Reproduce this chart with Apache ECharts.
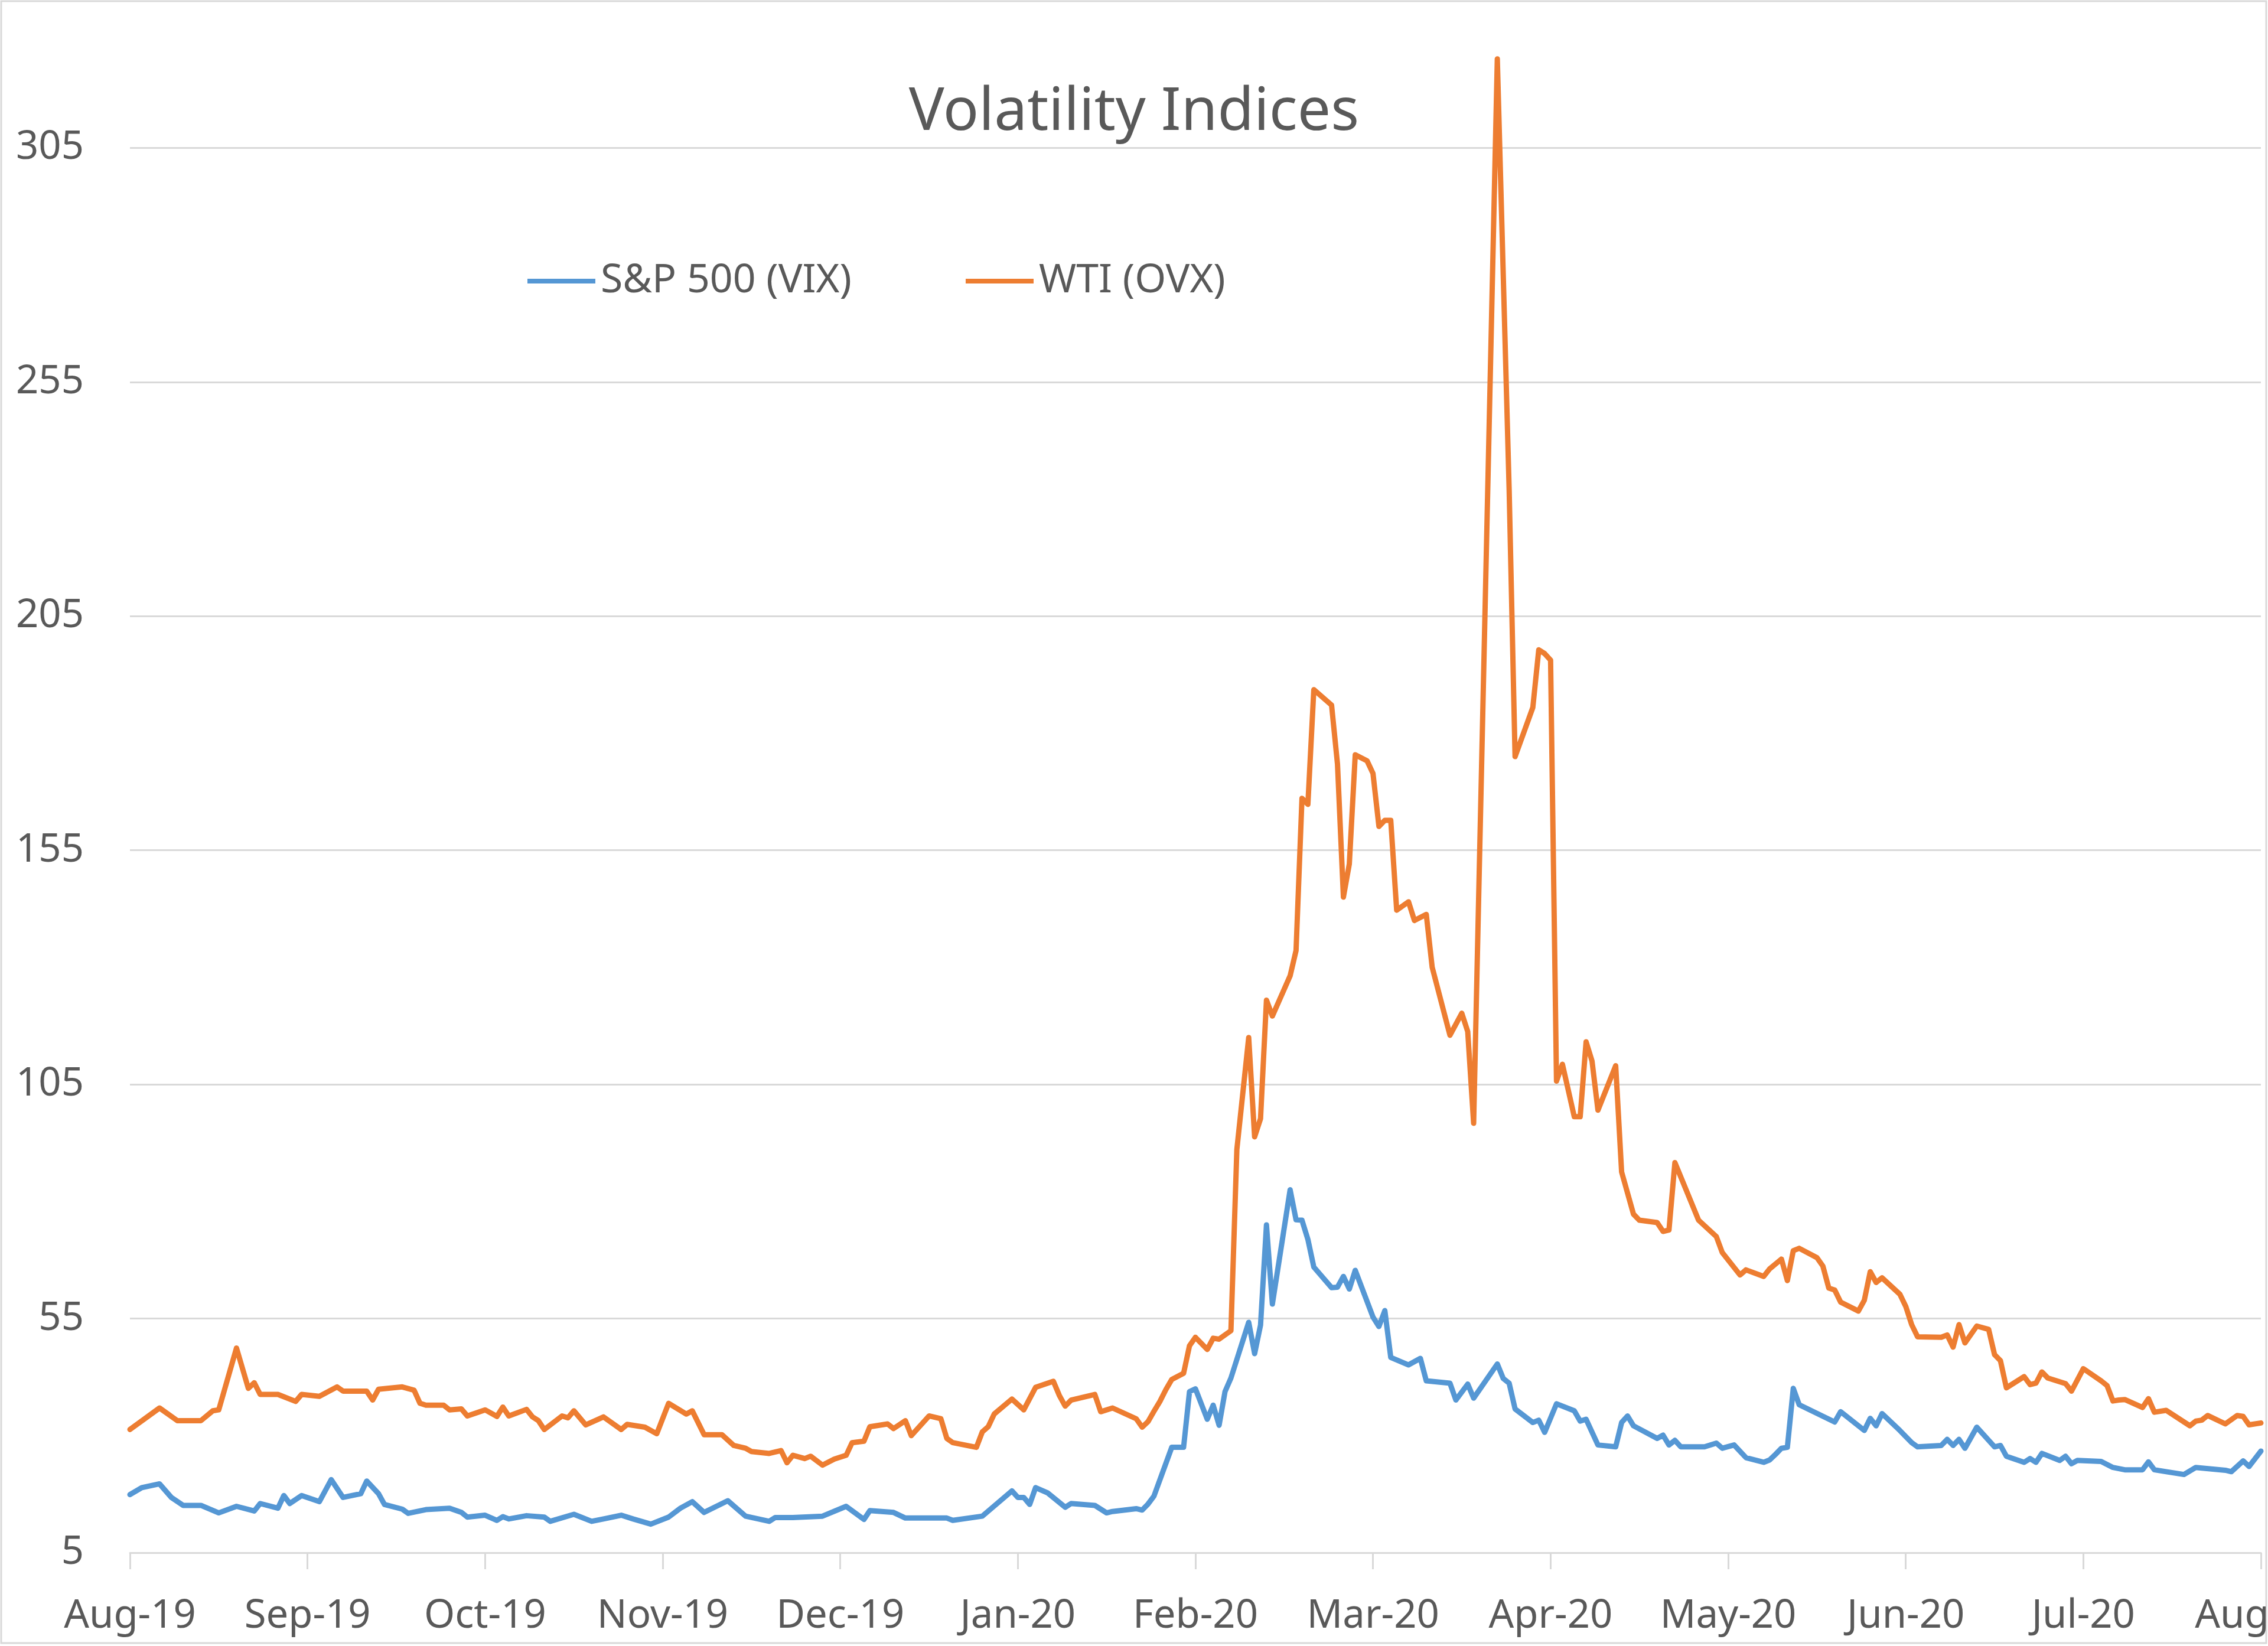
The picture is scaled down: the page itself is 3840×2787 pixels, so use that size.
<!DOCTYPE html>
<html><head><meta charset="utf-8">
<script src="https://cdn.jsdelivr.net/npm/echarts@6/dist/echarts.min.js"></script>
<style>html,body{margin:0;padding:0;background:#fff}#c{width:3840px;height:2787px}</style>
</head><body><div id="c"></div>
<script>
// X axis: day index from start (Aug-19 = 0), one tick label every 30 days
const monthLabels = ['Aug-19','Sep-19','Oct-19','Nov-19','Dec-19','Jan-20','Feb-20','Mar-20','Apr-20','May-20','Jun-20','Jul-20','Aug-20'];
const yTicks = [5,55,105,155,205,255,305];
const seriesNames = ['S&P 500 (VIX)','WTI (OVX)'];

const vixDay = [0,2,5,7,9,12,15,18,21,22,25,26,27,29,32,34,36,39,40,42,43,46,47,50,54,56,57,60,62,63,64,67,70,71,75,78,80,83,85,88,91,93,95,97,101,104,108,109,112,117,121,124,125,129,131,138,139,144,149,150,151,152,153,155,158,159,163,165,166,170,171,172,173,176,178,179,180,182,183,184,185,186,189,190,191,192,193,196,197,198,199,200,203,204,205,206,207,210,211,212,213,216,218,219,223,224,226,227,231,232,233,234,237,238,239,241,244,245,246,248,251,252,253,254,258,259,260,261,262,266,268,269,271,273,276,277,278,279,280,281,282,288,289,293,294,295,296,299,301,302,306,307,308,309,310,312,315,316,317,320,321,322,323,326,327,328,329,333,335,337,340,341,342,344,347,349,354,355,357,358,360];
const vixValue = [17.4,18.9,19.7,16.8,15.1,15.1,13.5,14.9,13.9,15.5,14.5,17.2,15.5,17.2,15.9,20.6,16.8,17.6,20.3,17.6,15.3,14.3,13.4,14.2,14.5,13.6,12.6,13.0,11.9,12.7,12.2,12.9,12.6,11.7,13.2,11.7,12.2,13.0,12.2,11.1,12.6,14.5,15.9,13.6,16.1,12.8,11.7,12.5,12.5,12.8,14.9,12.1,14.0,13.6,12.4,12.4,11.9,12.8,18.2,16.8,16.8,15.3,18.9,17.8,14.7,15.5,15.1,13.5,13.8,14.4,14.1,15.4,17.1,27.5,27.5,39.4,40.0,33.5,36.5,32.2,39.4,42.3,54.2,47.5,53.6,75.0,58.1,82.5,76.1,76.0,71.9,66.0,61.6,61.7,64.0,61.3,65.3,55.3,53.3,56.7,46.7,45.1,46.5,41.7,41.2,37.6,41.0,38.0,45.3,42.2,41.2,35.7,32.8,33.3,30.7,36.8,35.3,33.1,33.5,28.0,27.6,32.8,34.2,32.1,29.4,30.1,28.0,29.0,27.6,27.6,28.4,27.3,28.0,25.3,24.3,24.8,26.0,27.3,27.5,40.1,36.6,32.9,35.1,31.1,33.7,32.1,34.7,31.1,28.5,27.6,27.9,29.2,27.9,29.2,27.3,31.8,27.6,27.9,25.6,24.3,25.1,24.3,26.2,24.7,25.6,24.0,24.7,24.5,23.2,22.7,22.7,24.4,22.7,22.3,21.7,23.2,22.6,22.3,24.6,23.4,26.7];

const ovxDay = [0,5,8,12,14,15,18,20,21,22,25,28,29,32,35,36,40,41,42,46,48,49,50,53,54,56,57,60,62,63,64,67,68,69,70,73,74,75,77,80,83,84,87,89,91,94,95,97,100,102,104,105,108,110,111,112,114,115,117,119,121,122,124,125,128,129,131,132,135,137,138,139,143,144,145,146,149,151,153,156,157,158,159,163,164,166,170,171,172,173,174,175,176,178,179,180,182,183,184,186,187,189,190,191,192,193,196,197,198,199,200,203,204,205,206,207,209,210,211,212,213,214,216,217,219,220,223,225,226,227,231,233,234,237,238,239,240,241,242,244,245,246,247,248,251,252,254,255,258,259,260,261,265,268,269,272,273,276,277,279,280,281,282,285,286,287,288,289,292,293,294,295,296,299,300,301,302,306,307,308,309,310,312,314,315,316,317,320,321,322,323,324,327,328,330,333,334,335,336,337,340,341,342,344,348,349,350,351,354,356,357,358,360];
const ovxValue = [31.3,35.9,33.2,33.2,35.3,35.5,48.7,40.1,41.3,38.8,38.8,37.3,38.8,38.4,40.4,39.5,39.5,37.6,39.9,40.4,39.7,36.9,36.5,36.5,35.5,35.7,34.2,35.5,34.1,36.1,34.2,35.6,34.0,33.2,31.3,34.2,33.8,35.3,32.3,34.0,31.3,32.4,31.8,30.4,36.9,34.6,35.3,30.2,30.2,27.9,27.3,26.6,26.2,26.8,24.2,25.8,25.1,25.6,23.7,25.0,25.8,28.5,28.8,31.9,32.5,31.5,33.2,30.0,34.2,33.6,29.4,28.5,27.5,30.8,31.9,34.6,37.8,35.5,40.3,41.6,38.6,36.3,37.6,38.8,35.1,35.9,33.6,31.8,33.0,35.2,37.3,39.8,42.0,43.3,49.2,51.0,48.4,50.8,50.6,52.4,91.1,115.0,93.8,97.7,123.0,119.6,128.2,133.6,166.1,164.8,189.3,186.0,173.4,145.0,152.1,175.4,174.1,171.4,160.1,161.4,161.4,142.2,144.0,140.0,141.3,130.0,115.5,120.2,116.3,96.7,324.0,232.0,175.0,185.5,197.8,197.0,195.6,105.7,109.3,98.1,98.1,114.1,110.0,99.5,109.0,86.3,77.3,76.0,75.5,73.6,73.9,88.3,76.0,72.5,69.1,64.3,65.4,64.0,65.6,67.7,63.1,69.5,70.0,68.0,66.2,61.5,61.1,58.5,56.6,58.9,65.0,62.7,63.7,60.2,57.6,53.7,51.1,51.0,51.5,48.9,53.7,49.8,53.4,52.7,47.3,46.0,40.2,42.6,40.9,41.2,43.6,42.3,41.1,39.5,44.3,41.7,40.7,37.4,37.6,37.7,36.0,37.9,35.0,35.4,32.1,33.1,33.3,34.3,32.5,34.3,34.1,32.3,32.7];

const vixData = vixDay.map((d, k) => [d, vixValue[k]]);
const ovxData = ovxDay.map((d, k) => [d, ovxValue[k]]);

const FONT = 'Noto Sans';
const TXT = '#595959';
const GRID = '#d9d9d9';
const chart = echarts.init(document.getElementById('c'), null, {renderer: 'canvas', width: 3840, height: 2787});
chart.setOption({
  animation: false,
  backgroundColor: '#ffffff',
  graphic: [{type: 'rect', shape: {x: 2, y: 2, width: 3835, height: 2780}, style: {fill: 'none', stroke: GRID, lineWidth: 3}, silent: true}],
  title: {text: 'Volatility Indices', left: 'center', top: 142, padding: 0,
    textStyle: {fontFamily: FONT, fontSize: 100, fontWeight: 'normal', color: TXT}},
  legend: [
    {data: [seriesNames[0]], left: 893, top: 442, padding: 0, icon: 'rect', itemWidth: 115, itemHeight: 8,
      textStyle: {fontFamily: FONT, fontSize: 68, color: TXT, padding: [0, 0, 0, 4]}},
    {data: [seriesNames[1]], left: 1635, top: 442, padding: 0, icon: 'rect', itemWidth: 115, itemHeight: 8,
      textStyle: {fontFamily: FONT, fontSize: 68, color: TXT, padding: [0, 0, 0, 4]}}
  ],
  grid: {left: 220, right: 12, top: 68, bottom: 158, containLabel: false, outerBoundsMode: 'none'},
  xAxis: {
    type: 'value', min: 0, max: 360, interval: 30,
    axisLine: {show: true, onZero: false, lineStyle: {color: GRID, width: 3}},
    axisTick: {show: true, length: 28, lineStyle: {color: GRID, width: 3}},
    axisLabel: {margin: 74, fontFamily: FONT, fontSize: 67, color: TXT, hideOverlap: false,
      formatter: v => monthLabels[Math.round(v / 30)] || ''},
    splitLine: {show: false}
  },
  yAxis: {
    type: 'value', min: 5, max: 328, interval: 50,
    axisLine: {show: false}, axisTick: {show: false},
    axisLabel: {margin: 78, fontFamily: FONT, fontSize: 67, color: TXT, showMaxLabel: false,
      formatter: v => (yTicks.indexOf(v) >= 0 ? String(v) : '')},
    splitLine: {show: true, showMaxLine: false, lineStyle: {color: GRID, width: 3}}
  },
  series: [
    {name: seriesNames[0], type: 'line', data: vixData, symbol: 'none', showSymbol: false,
      lineStyle: {color: '#5597D4', width: 9, join: 'round', cap: 'round'}, itemStyle: {color: '#5597D4'}},
    {name: seriesNames[1], type: 'line', data: ovxData, symbol: 'none', showSymbol: false,
      lineStyle: {color: '#ED7D31', width: 9, join: 'round', cap: 'round'}, itemStyle: {color: '#ED7D31'}}
  ]
});
</script>
</body></html>
